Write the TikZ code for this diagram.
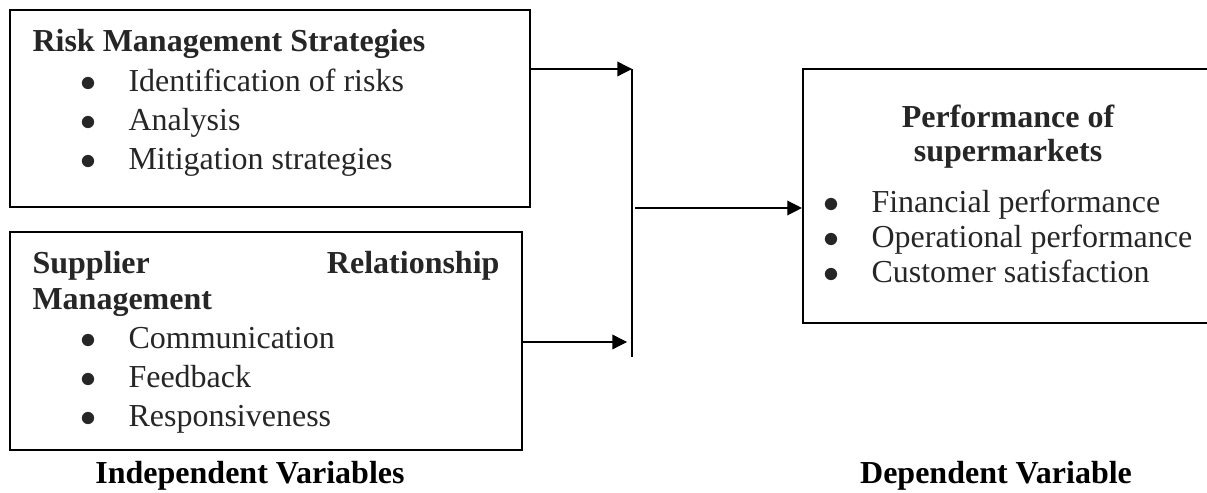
\documentclass[tikz,border=0pt]{standalone}
\usepackage{fontspec}
\setmainfont{Liberation Serif}
\usetikzlibrary{arrows.meta,positioning,calc,fit}
\newcommand{\bul}{\makebox[18pt][l]{$\bullet$}}

\begin{document}
\begin{tikzpicture}[x=0.375pt,y=-0.375pt,font=\fontsize{12}{14}\selectfont,>={Triangle[length=5.5pt,width=5.5pt]},
  box/.style={draw,line width=0.8pt,inner sep=0pt},
  hd/.style={anchor=base west,inner sep=0pt,text=black!85,font=\fontsize{12}{14}\selectfont\bfseries},
  it/.style={anchor=base west,inner sep=0pt,text=black!85}]
\useasboundingbox (0,0) rectangle (1207,493);
\node[box,fit={(10,10) (530,207)}] (R) {};
\node[box,fit={(10,232) (522,450)}] (S) {};
\node[box,fit={(803,69) (1213,323)}] (P) {};
\node[hd] (Rh) at (32,52) {Risk Management Strategies};
\node[it] (R1) at (80,92) {\bul Identification of risks};
\node[it] (R2) at (80,131) {\bul Analysis};
\node[it] (R3) at (80,170) {\bul Mitigation strategies};
\node[hd] (Sh) at (32,274) {Supplier};\node[hd,anchor=base east] (Sr) at (500,274) {Relationship};
\node[hd] (Sm) at (32,310) {Management};
\node[it] (S1) at (80,349) {\bul Communication};
\node[it] (S2) at (80,388) {\bul Feedback};
\node[it] (S3) at (80,427) {\bul Responsiveness};
\node[hd,anchor=base] (Ph) at (1008,128) {Performance of};
\node[hd,anchor=base] (Ps) at (1008,162) {supermarkets};
\node[it] (P1) at (823,213) {\bul Financial performance};
\node[it] (P2) at (823,248) {\bul Operational performance};
\node[it] (P3) at (823,283) {\bul Customer satisfaction};
\node[hd,text=black,anchor=base] (IV) at (250,483) {Independent Variables};
\node[hd,text=black,anchor=base] (DV) at (996,483) {Dependent Variable};
\coordinate (jt) at (632,69);\coordinate (jb) at (632,357);\coordinate (ja) at (627,342);\coordinate (jm) at (635,208);
\draw[line width=0.5pt,->] (R.east |- jt)--(jt);
\draw[line width=0.5pt,->] (S.east |- ja)--(ja);
\draw[line width=0.5pt] (jt)--(jb);
\draw[line width=0.5pt,->] (jm)--(P.west |- jm);
\end{tikzpicture}
\end{document}
